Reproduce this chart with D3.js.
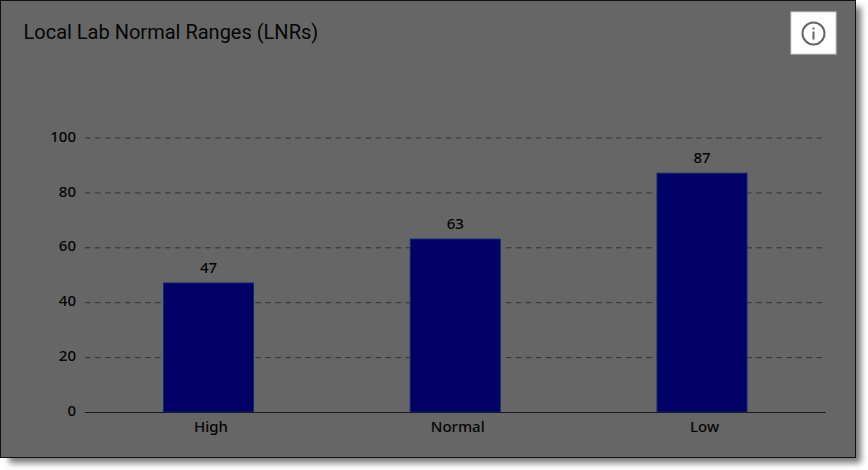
<!DOCTYPE html>
<html>
<head>
<meta charset="utf-8">
<script src="https://cdn.jsdelivr.net/npm/d3@7/dist/d3.min.js"></script>
<style>
  html, body { margin: 0; padding: 0; background: #fff; }
  svg { display: block; }
</style>
</head>
<body>
<svg id="chart" width="868" height="470"></svg>
<script>
const categories = ["High", "Normal", "Low"];
const counts = [47, 63, 87];
const yTicks = [0, 20, 40, 60, 80, 100];
const chartTitle = "Local Lab Normal Ranges (LNRs)";

const svg = d3.select("#chart");

// Soft drop shadow behind the panel
const defs = svg.append("defs");
const blur = defs.append("filter").attr("id", "panelShadow")
  .attr("x", "-5%").attr("y", "-5%").attr("width", "110%").attr("height", "110%");
blur.append("feGaussianBlur").attr("stdDeviation", 3);

svg.append("rect")
  .attr("x", 9).attr("y", 7).attr("width", 852).attr("height", 456)
  .attr("fill", "#777").attr("filter", "url(#panelShadow)");

svg.append("rect")
  .attr("x", 0.5).attr("y", 0.5).attr("width", 855).attr("height", 457)
  .attr("fill", "#666").attr("stroke", "#111");

svg.append("text")
  .attr("x", 23.5).attr("y", 38.5)
  .attr("font-family", "Roboto, sans-serif").attr("font-size", 20)
  .attr("fill", "#050505")
  .text(chartTitle);

// Info button in the top right corner
const info = svg.append("g");
info.append("rect")
  .attr("x", 791).attr("y", 12).attr("width", 45).attr("height", 42)
  .attr("fill", "#fff").attr("stroke", "#ccc");
info.append("circle")
  .attr("cx", 813.5).attr("cy", 33.5).attr("r", 11)
  .attr("fill", "none").attr("stroke", "#666").attr("stroke-width", 2);
info.append("rect")
  .attr("x", 812.5).attr("y", 31.5).attr("width", 2).attr("height", 8).attr("fill", "#666");
info.append("rect")
  .attr("x", 812.5).attr("y", 27.5).attr("width", 2).attr("height", 2).attr("fill", "#666");

const y = d3.scaleLinear().domain([0, 100]).range([412, 137.5]);
const x = d3.scalePoint().domain(categories).range([208.5, 702]);
const barWidth = 90;

const fontStack = "'Noto Sans', 'Open Sans', sans-serif";
const labelSize = 15;
const labelWeight = 500;

// Dashed gridlines, skipping the baseline
svg.append("g")
  .selectAll("line")
  .data(yTicks.filter(d => d > 0))
  .join("line")
  .attr("x1", 85).attr("x2", 822)
  .attr("y1", d => y(d) + 0.5).attr("y2", d => y(d) + 0.5)
  .attr("stroke", "#333")
  .attr("stroke-dasharray", "5.5 4.52");

// Value axis labels
const yAxis = d3.axisLeft(y).tickValues(yTicks).tickSize(0).tickPadding(0);
const yG = svg.append("g").attr("transform", "translate(76,0)").call(yAxis);
yG.select(".domain").remove();
yG.selectAll("text")
  .attr("font-family", fontStack).attr("font-size", labelSize)
  .attr("font-weight", labelWeight).attr("fill", "#050505")
  .attr("dy", "0.24em");

// Bars
svg.append("g")
  .selectAll("rect")
  .data(counts)
  .join("rect")
  .attr("x", (d, i) => x(categories[i]) - barWidth / 2)
  .attr("y", d => y(d))
  .attr("width", barWidth)
  .attr("height", d => y(0) - y(d))
  .attr("fill", "#000066")
  .attr("stroke", "#0a2a6e")
  .attr("stroke-width", 1);

// Value labels above the bars
svg.append("g")
  .selectAll("text")
  .data(counts)
  .join("text")
  .attr("x", (d, i) => x(categories[i]))
  .attr("y", d => y(d) - 10)
  .attr("text-anchor", "middle")
  .attr("font-family", fontStack).attr("font-size", labelSize)
  .attr("font-weight", labelWeight).attr("fill", "#050505")
  .text(d => d);

// Baseline
svg.append("line")
  .attr("x1", 85).attr("x2", 826)
  .attr("y1", y(0) + 0.5).attr("y2", y(0) + 0.5)
  .attr("stroke", "#1a1a1a").attr("stroke-width", 1.2);

// Category labels
svg.append("g")
  .selectAll("text")
  .data(categories)
  .join("text")
  .attr("x", (d, i) => x(d) + 2.5)
  .attr("y", 432)
  .attr("text-anchor", "middle")
  .attr("font-family", fontStack).attr("font-size", labelSize)
  .attr("font-weight", labelWeight).attr("fill", "#050505")
  .text(d => d);
</script>
</body>
</html>
